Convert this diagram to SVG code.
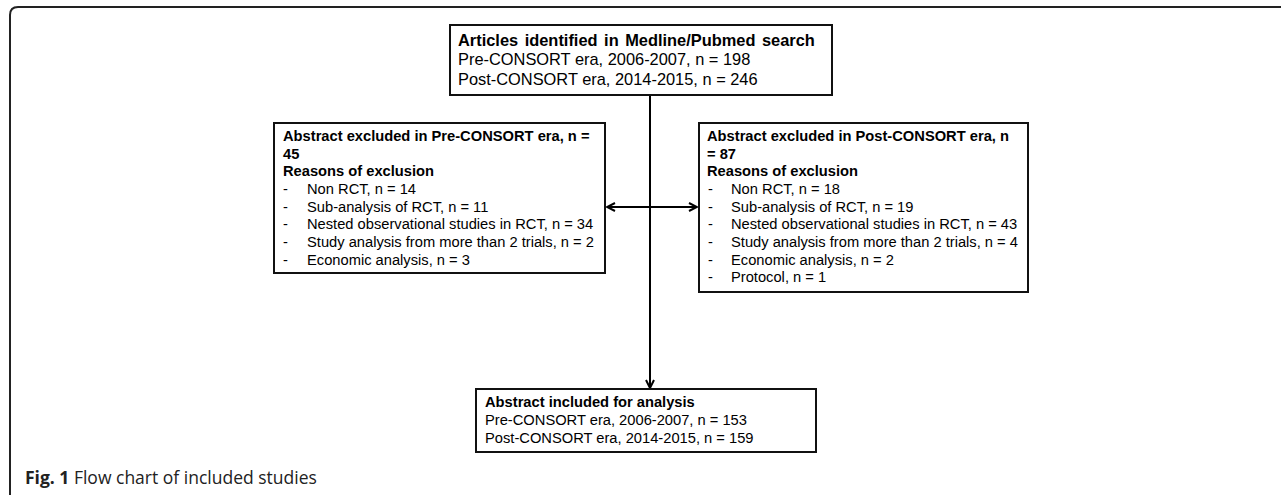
<svg xmlns="http://www.w3.org/2000/svg" width="1281" height="495" viewBox="0 0 1281 495">
<style>
.box{fill:#fff;stroke:#111;stroke-width:2}
.t{font-family:"Liberation Sans",Arial,sans-serif;font-size:14.7px;fill:#000}
.b{font-weight:bold}
.big{font-size:16.4px}
.cap{font-family:"Open Sans","Noto Sans",sans-serif;font-size:17.5px;fill:#222}
.line{stroke:#000;stroke-width:2;fill:none}
</style>
<defs>
<marker id="ah" viewBox="0 0 10 10" refX="9" refY="5" markerWidth="10" markerHeight="10" markerUnits="userSpaceOnUse" orient="auto-start-reverse">
<path d="M1,1 L9,5 L1,9" fill="none" stroke="#000" stroke-width="2"/>
</marker>
</defs>
<path d="M10,495 L10,15 Q10,7 18,7 L1281,7" fill="none" stroke="#222" stroke-width="2"/>
<g id="connectors">
<line class="line" x1="650" y1="96" x2="650" y2="388" marker-end="url(#ah)"/>
<line class="line" x1="607" y1="207" x2="697" y2="207" marker-start="url(#ah)" marker-end="url(#ah)"/>
</g>
<g id="top">
<rect class="box" x="450" y="25" width="382" height="70"/>
<text class="t big b" x="458" y="45.5" word-spacing="2">Articles identified in Medline/Pubmed search</text>
<text class="t big" x="458" y="65">Pre-CONSORT era, 2006-2007, n = 198</text>
<text class="t big" x="458" y="84.5">Post-CONSORT era, 2014-2015, n = 246</text>
</g>
<g id="left">
<rect class="box" x="274" y="123" width="331" height="150"/>
<text class="t b" x="283" y="141">Abstract excluded in Pre-CONSORT era, n =</text>
<text class="t b" x="283" y="158.6">45</text>
<text class="t b" x="283" y="176.3">Reasons of exclusion</text>
<text class="t" x="283" y="194">-</text><text class="t" x="307" y="194">Non RCT, n = 14</text>
<text class="t" x="283" y="211.6">-</text><text class="t" x="307" y="211.6">Sub-analysis of RCT, n = 11</text>
<text class="t" x="283" y="229.3">-</text><text class="t" x="307" y="229.3">Nested observational studies in RCT, n = 34</text>
<text class="t" x="283" y="247">-</text><text class="t" x="307" y="247">Study analysis from more than 2 trials, n = 2</text>
<text class="t" x="283" y="264.6">-</text><text class="t" x="307" y="264.6">Economic analysis, n = 3</text>
</g>
<g id="right">
<rect class="box" x="699" y="123" width="329" height="169"/>
<text class="t b" x="707" y="141">Abstract excluded in Post-CONSORT era, n</text>
<text class="t b" x="707" y="158.6">= 87</text>
<text class="t b" x="707" y="176.3">Reasons of exclusion</text>
<text class="t" x="708" y="194">-</text><text class="t" x="731" y="194">Non RCT, n = 18</text>
<text class="t" x="708" y="211.6">-</text><text class="t" x="731" y="211.6">Sub-analysis of RCT, n = 19</text>
<text class="t" x="708" y="229.3">-</text><text class="t" x="731" y="229.3">Nested observational studies in RCT, n = 43</text>
<text class="t" x="708" y="247">-</text><text class="t" x="731" y="247">Study analysis from more than 2 trials, n = 4</text>
<text class="t" x="708" y="264.6">-</text><text class="t" x="731" y="264.6">Economic analysis, n = 2</text>
<text class="t" x="708" y="282.3">-</text><text class="t" x="731" y="282.3">Protocol, n = 1</text>
</g>
<g id="bottom">
<rect class="box" x="476" y="389" width="340" height="63"/>
<text class="t b" x="485" y="407">Abstract included for analysis</text>
<text class="t" x="485" y="425">Pre-CONSORT era, 2006-2007, n = 153</text>
<text class="t" x="485" y="443">Post-CONSORT era, 2014-2015, n = 159</text>
</g>
<text class="cap" x="25" y="484"><tspan font-weight="bold">Fig. 1</tspan> Flow chart of included studies</text>
</svg>
